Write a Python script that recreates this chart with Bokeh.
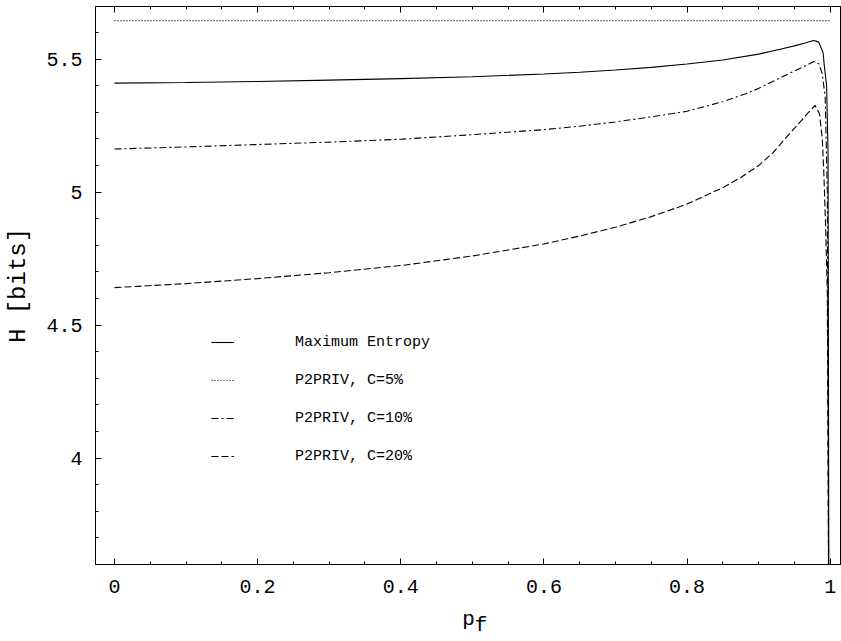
from bokeh.plotting import figure
from bokeh.models import Range1d, FixedTicker, LinearAxis, Legend, LegendItem
from bokeh.embed import file_html
from bokeh.resources import INLINE

# ---- data ----
solid_x = [0, 0.1, 0.2, 0.3, 0.4, 0.5, 0.6, 0.65, 0.7, 0.75, 0.8, 0.85, 0.9, 0.93, 0.95, 0.965, 0.977, 0.984, 0.99, 0.992, 0.995, 0.997, 0.9985]
solid_y = [5.410, 5.412, 5.416, 5.421, 5.427, 5.434, 5.444, 5.451, 5.459, 5.469, 5.482, 5.497, 5.519, 5.537, 5.550, 5.561, 5.570, 5.564, 5.525, 5.47, 5.40, 5.15, 3.0]

dotted_x = [0, 1]
dotted_y = [5.645, 5.645]

dashdot_x = [0, 0.1, 0.2, 0.3, 0.4, 0.5, 0.6, 0.65, 0.7, 0.75, 0.8, 0.85, 0.88, 0.9, 0.93, 0.96, 0.977, 0.984, 0.989, 0.993, 0.996, 0.9985]
dashdot_y = [5.162, 5.170, 5.179, 5.188, 5.199, 5.216, 5.235, 5.248, 5.264, 5.283, 5.304, 5.340, 5.368, 5.390, 5.430, 5.468, 5.491, 5.483, 5.445, 5.357, 5.0, 3.0]

dashed_x = [0, 0.1, 0.2, 0.3, 0.4, 0.5, 0.6, 0.65, 0.7, 0.75, 0.8, 0.85, 0.875, 0.9, 0.92, 0.94, 0.955, 0.968, 0.979, 0.985, 0.989, 0.991, 0.9935, 0.996, 0.9985]
dashed_y = [4.641, 4.656, 4.675, 4.697, 4.724, 4.760, 4.805, 4.835, 4.868, 4.908, 4.955, 5.017, 5.055, 5.100, 5.148, 5.210, 5.255, 5.295, 5.326, 5.295, 5.20, 5.08, 4.88, 4.62, 3.0]

legend_labels = ["Maximum Entropy", "P2PRIV, C=5%", "P2PRIV, C=10%", "P2PRIV, C=20%"]

x_ticks = [0, 0.2, 0.4, 0.6, 0.8, 1]
x_tick_labels = ["0", "0.2", "0.4", "0.6", "0.8", "1"]
x_minor = [round(-0.05 + 0.05 * i, 2) for i in range(23)]
y_ticks = [4, 4.5, 5, 5.5]
y_tick_labels = ["4", "4.5", "5", "5.5"]
y_minor = [round(3.5 + 0.1 * i, 1) for i in range(23)]

x_title = "p\n\u00a0\u00a0f"
y_title = "H [bits]"

FONT = "Liberation Mono"

p = figure(width=841, height=641, output_backend="svg", toolbar_location=None,
           x_range=Range1d(-0.0265, 1.0158), y_range=Range1d(3.60, 5.698),
           min_border_left=95, min_border_top=6, min_border_right=0, min_border_bottom=77)
p.grid.visible = False
p.outline_line_color = "black"
p.background_fill_color = "white"
p.border_fill_color = "white"

r_solid = p.line(solid_x, solid_y, line_color="black", line_width=1.1)
r_dot = p.line(dotted_x, dotted_y, line_color="black", line_width=1.1, line_dash="1 2")
r_dd = p.line(dashdot_x, dashdot_y, line_color="black", line_width=1.1, line_dash="7 3 2 3")
r_dash = p.line(dashed_x, dashed_y, line_color="black", line_width=1.1, line_dash="7 3")

def style_axis(ax):
    ax.axis_line_color = "black"
    ax.major_tick_line_color = "black"
    ax.minor_tick_line_color = "black"
    ax.major_tick_in = 6
    ax.major_tick_out = 0
    ax.minor_tick_in = 3
    ax.minor_tick_out = 0
    ax.major_label_text_font = FONT
    ax.major_label_text_font_size = "20px"
    ax.major_label_text_color = "black"
    ax.axis_label_text_font = FONT
    ax.axis_label_text_font_size = "24px"
    ax.axis_label_text_font_style = "normal"
    ax.axis_label_text_color = "black"

p.xaxis.ticker = FixedTicker(ticks=x_ticks, minor_ticks=x_minor)
p.yaxis.ticker = FixedTicker(ticks=y_ticks, minor_ticks=y_minor)
p.xaxis.major_label_overrides = dict(zip(x_ticks, x_tick_labels))
p.yaxis.major_label_overrides = dict(zip(y_ticks, y_tick_labels))
style_axis(p.xaxis[0])
style_axis(p.yaxis[0])
p.xaxis.major_label_standoff = 15
p.yaxis.major_label_standoff = 13
p.xaxis.axis_label = x_title
p.xaxis.axis_label_text_font_size = "21px"
p.xaxis.axis_label_text_line_height = 0.3
p.xaxis.axis_label_standoff = 12
p.yaxis.axis_label = y_title
p.yaxis.axis_label_standoff = 11

top = LinearAxis(ticker=FixedTicker(ticks=x_ticks, minor_ticks=x_minor))
style_axis(top)
top.major_label_overrides = {t: "" for t in x_ticks}
top.major_label_standoff = 0
p.add_layout(top, "above")

legend = Legend(items=[LegendItem(label=legend_labels[0], renderers=[r_solid]),
                       LegendItem(label=legend_labels[1], renderers=[r_dot]),
                       LegendItem(label=legend_labels[2], renderers=[r_dd]),
                       LegendItem(label=legend_labels[3], renderers=[r_dash])],
                location=(116, 98), border_line_color=None, background_fill_alpha=0,
                padding=0, margin=0, spacing=18, glyph_width=23, glyph_height=20,
                label_height=20, label_standoff=61,
                label_text_font=FONT, label_text_font_size="15px", label_text_color="black")
p.add_layout(legend)

open("out.html", "w").write(file_html(p, INLINE))
